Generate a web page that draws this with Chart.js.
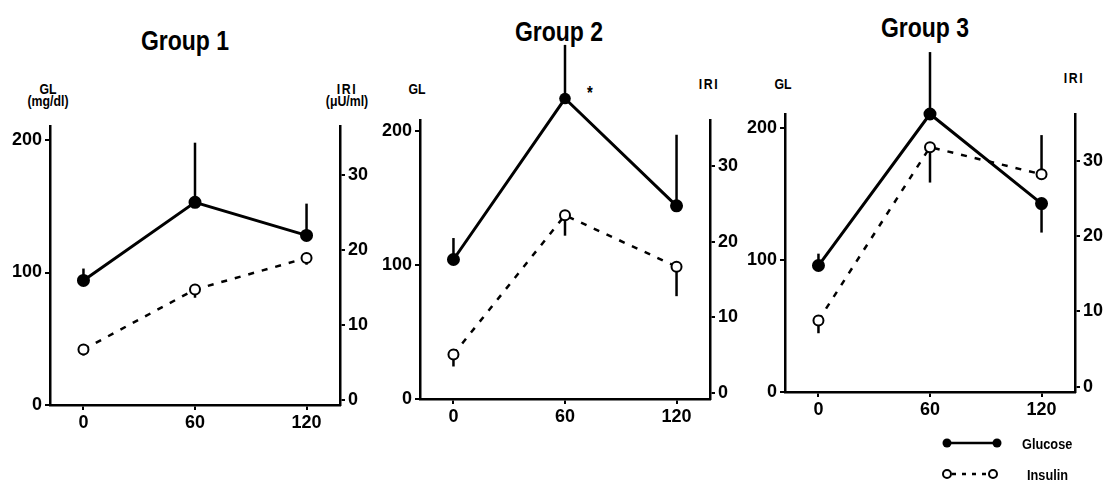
<!DOCTYPE html>
<html>
<head>
<meta charset="utf-8">
<script src="https://cdn.jsdelivr.net/npm/chart.js@4.4.1/dist/chart.umd.min.js"></script>
<style>
  body { margin: 0; background: #fff; width: 1103px; height: 483px; position: relative; overflow: hidden;
         font-family: 'Liberation Sans', Arial, sans-serif; font-weight: bold; color: #000; }
  canvas { position: absolute; }
  .lbl { position: absolute; transform: translate(-50%, -50%) scaleX(0.82); white-space: nowrap; line-height: 1; text-align: center; }
  .title { font-size: 28px; }
  .ax { font-size: 15px; line-height: 12px; }
  .iri { letter-spacing: 2px; }
  .leg { position: absolute; font-size: 15px; line-height: 1; transform: translateY(-50%) scaleX(0.85); transform-origin: left center; }
</style>
</head>
<body>
<div class="lbl title" style="left:185px;top:41px">Group 1</div>
<div class="lbl title" style="left:559px;top:32px">Group 2</div>
<div class="lbl title" style="left:925px;top:28px">Group 3</div>

<div class="lbl ax" style="left:48px;top:95px">GL<br>(mg/dl)</div>
<div class="lbl ax" style="left:347px;top:95px"><span class="iri">IRI</span><br>(μU/ml)</div>
<div class="lbl ax" style="left:417px;top:89px">GL</div>
<div class="lbl ax iri" style="left:709px;top:84px">IRI</div>
<div class="lbl ax" style="left:783px;top:84px">GL</div>
<div class="lbl ax iri" style="left:1074px;top:78px">IRI</div>
<div class="lbl" style="left:590px;top:93px;font-size:18px">*</div>

<canvas id="g1" width="380" height="399" style="left:5px;top:46px"></canvas>
<canvas id="g2" width="380" height="399" style="left:375px;top:40px"></canvas>
<canvas id="g3" width="380" height="398" style="left:740px;top:34px"></canvas>

<svg width="70" height="50" style="position:absolute;left:935px;top:430px">
  <line x1="12" y1="13" x2="62" y2="13" stroke="#000" stroke-width="2.5"/>
  <circle cx="12" cy="13" r="4.5" fill="#000"/>
  <circle cx="62" cy="13" r="4.5" fill="#000"/>
  <line x1="17" y1="44" x2="53" y2="44" stroke="#000" stroke-width="2.5" stroke-dasharray="4,6"/>
  <circle cx="12" cy="44" r="4" fill="#fff" stroke="#000" stroke-width="2"/>
  <circle cx="58" cy="44" r="4" fill="#fff" stroke="#000" stroke-width="2"/>
</svg>
<div class="leg" style="left:1022px;top:443px">Glucose</div>
<div class="leg" style="left:1027px;top:474px">Insulin</div>

<script>
// minutes after load
const timePoints = [0, 60, 120];
const xTicks = [0, 60, 120];
const glTicks = [0, 100, 200];
const iriTicks = [0, 10, 20, 30];

// glucose (mg/dl) and insulin (uU/ml); error bars as signed offsets (+ up, - down)
const glucose1 = [94, 153, 128];
const glucoseErr1 = [9, 45, 24];
const insulin1 = [6.7, 14.7, 18.9];
const insulinErr1 = [-0.8, -1.1, -0.9];

const glucose2 = [104, 224, 144];
const glucoseErr2 = [16, 40, 53];
const insulin2 = [5.1, 23.5, 16.7];
const insulinErr2 = [-1.6, -2.7, -3.9];

const glucose3 = [96, 211, 143];
const glucoseErr3 = [9, 47, -22];
const insulin3 = [8.8, 31.8, 28.2];
const insulinErr3 = [-1.7, -4.7, 5.2];

const tickFont = { family: 'Liberation Sans', size: 18, weight: 'bold' };

// draws the SD bars, and any marker that sits above the plot area (Chart.js skips those)
const errorBars = {
  id: 'errorBars',
  afterDatasetsDraw(chart) {
    const ctx = chart.ctx;
    const area = chart.chartArea;
    chart.data.datasets.forEach((ds, di) => {
      const meta = chart.getDatasetMeta(di);
      const ys = chart.scales[ds.yAxisID];
      ctx.save();
      ctx.strokeStyle = '#000';
      ctx.lineWidth = 2.5;
      meta.data.forEach((pt, i) => {
        const e = ds.err[i];
        const start = pt.y + (e > 0 ? -1 : 1) * ds.pointRadius;
        const end = ys.getPixelForValue(ds.data[i].y + e);
        ctx.beginPath();
        ctx.moveTo(pt.x, start);
        ctx.lineTo(pt.x, end);
        ctx.stroke();
        if (pt.y < area.top - 2) {
          ctx.beginPath();
          ctx.arc(pt.x, pt.y, ds.pointRadius + 0.8, 0, Math.PI * 2);
          ctx.fillStyle = ds.pointBackgroundColor;
          ctx.fill();
        }
      });
      ctx.restore();
    });
  }
};

function axisBase(ticks) {
  return {
    afterBuildTicks: s => { s.ticks = ticks.map(v => ({ value: v })); },
    grid: { drawOnChartArea: false, tickLength: 5, tickWidth: 2, lineWidth: 2, color: '#000' },
    border: { width: 2.5, color: '#000' },
    ticks: { color: '#000', font: tickFont, padding: 3 }
  };
}

function buildChart(id, gl, glErr, iri, iriErr, glMax, iriMin, iriMax) {
  const x = axisBase(xTicks);
  x.type = 'linear'; x.min = -18; x.max = 138;
  x.afterFit = s => { s.height = 40; };
  x.ticks.padding = 2;

  const y = axisBase(glTicks);
  y.position = 'left'; y.min = 0; y.max = glMax;
  y.afterFit = s => { s.width = 45; };

  const y1 = axisBase(iriTicks);
  y1.position = 'right'; y1.min = iriMin; y1.max = iriMax;
  y1.afterFit = s => { s.width = 45; };

  return new Chart(document.getElementById(id), {
    type: 'line',
    data: {
      datasets: [
        {
          label: 'Glucose', yAxisID: 'y', err: glErr, clip: false,
          data: timePoints.map((t, i) => ({ x: t, y: gl[i] })),
          borderColor: '#000', borderWidth: 3,
          pointRadius: 5, pointBackgroundColor: '#000', pointBorderColor: '#000'
        },
        {
          label: 'Insulin', yAxisID: 'y1', err: iriErr, clip: false,
          data: timePoints.map((t, i) => ({ x: t, y: iri[i] })),
          borderColor: '#000', borderWidth: 2.5, borderDash: [6, 8],
          pointRadius: 5, pointBorderWidth: 2, pointBackgroundColor: '#fff', pointBorderColor: '#000'
        }
      ]
    },
    options: {
      responsive: false,
      animation: false,
      layout: { padding: { top: 80, left: 0, right: 0, bottom: 0 } },
      plugins: { legend: { display: false }, tooltip: { enabled: false } },
      scales: { x: x, y: y, y1: y1 }
    },
    plugins: [errorBars]
  });
}

buildChart('g1', glucose1, glucoseErr1, insulin1, insulinErr1, 210.6, -0.7, 36.5);
buildChart('g2', glucose2, glucoseErr2, insulin2, insulinErr2, 208, -0.8, 36.1);
buildChart('g3', glucose3, glucoseErr3, insulin3, insulinErr3, 211, -0.7, 36.2);
</script>
</body>
</html>
